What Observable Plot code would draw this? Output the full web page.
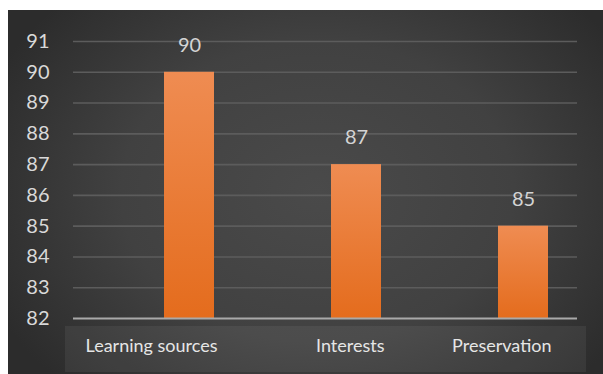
<!DOCTYPE html>
<html>
<head>
<meta charset="utf-8">
<script src="https://cdn.jsdelivr.net/npm/d3@7"></script>
<script src="https://cdn.jsdelivr.net/npm/@observablehq/plot@0.6"></script>
<style>
  html, body { margin: 0; padding: 0; background: #ffffff; }
  #wrap {
    position: absolute; left: 8px; top: 10px; width: 595px; height: 364px;
    background: radial-gradient(ellipse 60% 75% at 52% 50%, #4a4a4a 0%, #414141 55%, #2c2c2c 100%);
    overflow: hidden;
  }
  #band {
    position: absolute; left: 57px; top: 316px; width: 521px; height: 46px;
    background: rgba(255,255,255,0.06);
  }
  #chart { position: absolute; left: 0; top: 0; }
</style>
</head>
<body>
<div id="wrap"><div id="band"></div><div id="chart"></div></div>
<script>
const categories = ["Learning sources", "Interests", "Preservation"];
const values = [90, 87, 85];
const yTicks = [82, 83, 84, 85, 86, 87, 88, 89, 90, 91];

const data = categories.map((c, i) => ({category: c, value: values[i]}));
const font = "Lato, 'Open Sans', sans-serif";

const svg = Plot.plot({
  width: 595,
  height: 364,
  marginTop: 31,
  marginBottom: 56,
  marginLeft: 65,
  marginRight: 26,
  style: {background: "transparent", fontFamily: font, color: "#d9d9d9"},
  x: {domain: categories, range: [97, 600], paddingInner: 0.7, paddingOuter: 0.35, axis: null},
  y: {domain: [82, 91], axis: null},
  marks: [
    Plot.ruleY(yTicks.filter(d => d !== 82), {stroke: "#5c5c5c", strokeWidth: 1.6}),
    Plot.barY(data, {x: "category", y1: 82, y2: "value", fill: "url(#barGrad)"}),
    Plot.ruleY([82], {stroke: "#a9a9a9", strokeWidth: 2}),
    Plot.axisY(yTicks, {tickSize: 0, tickPadding: 24, fontSize: 20, fill: "#d9d9d9", label: null}),
    Plot.text(data, {x: "category", y: "value", text: d => String(d.value), dy: -27, fontSize: 20, fill: "#d4d4d4"}),
    Plot.text(data, {x: "category", text: "category", frameAnchor: "bottom", textAnchor: "end", dx: 28, dy: 33, fontSize: 18, fill: "#e6e6e6"})
  ]
});

const defs = d3.select(svg).insert("defs", ":first-child");
const g = defs.append("linearGradient").attr("id", "barGrad").attr("x1", 0).attr("y1", 0).attr("x2", 0).attr("y2", 1);
g.append("stop").attr("offset", "0%").attr("stop-color", "#ef8c52");
g.append("stop").attr("offset", "100%").attr("stop-color", "#e46c1d");

document.getElementById("chart").appendChild(svg);
</script>
</body>
</html>
